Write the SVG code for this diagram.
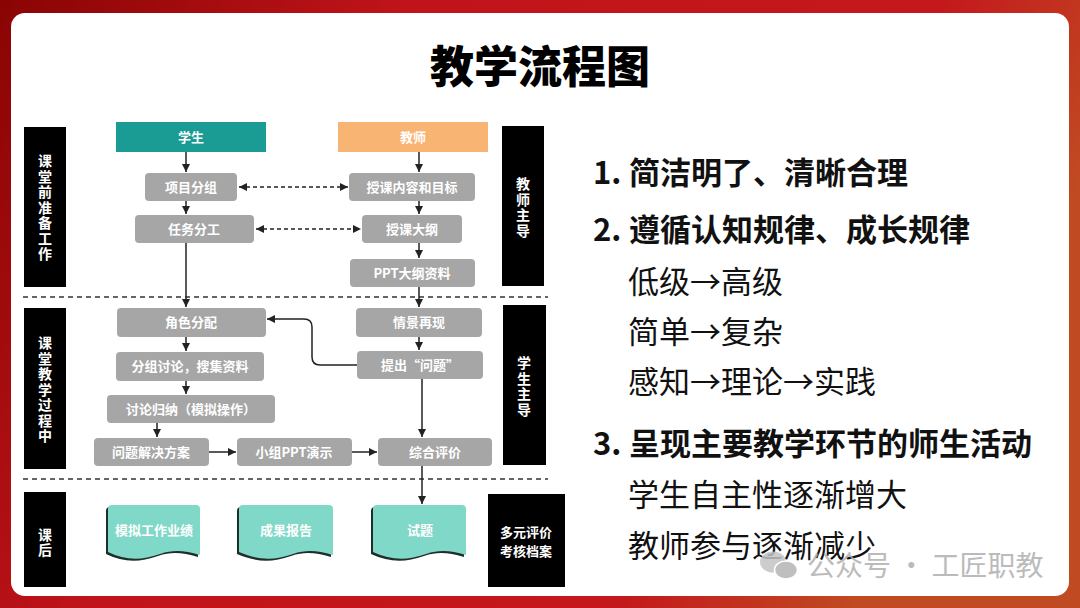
<svg xmlns="http://www.w3.org/2000/svg" width="1080" height="608" viewBox="0 0 1080 608">
<style>
text{font-family:"Noto Sans CJK SC","Noto Sans",sans-serif}
.gb{fill:#a6a6a6}
.gt{fill:#fff;font-size:13px;font-weight:bold;text-anchor:middle}
.bk{fill:#000}
.bt{fill:#fff;font-size:13px;font-weight:bold;text-anchor:middle}
.vt{fill:#fff;font-size:14px;font-weight:bold;text-anchor:middle;writing-mode:vertical-rl;letter-spacing:1.5px}
.ln{stroke:#222;stroke-width:1.5;fill:none}
.da{stroke:#222;stroke-width:1.4;fill:none;stroke-dasharray:4 3}
.sep{stroke:#333;stroke-width:1.4;fill:none;stroke-dasharray:5 4}
.doc{fill:#80d8c8}
.sh{fill:#1e2e2b}
.h1{fill:#111;font-size:31px;font-weight:bold}
.h2{fill:#111;font-size:31px}
</style>
<defs>
<linearGradient id="bg" x1="0" y1="0" x2="1" y2="0.3">
<stop offset="0" stop-color="#8a0404"/>
<stop offset="0.35" stop-color="#c0141a"/>
<stop offset="0.8" stop-color="#c4181c"/>
<stop offset="1" stop-color="#c04a22"/>
</linearGradient>
<marker id="ar" markerUnits="userSpaceOnUse" markerWidth="9" markerHeight="9" refX="8" refY="4" orient="auto-start-reverse">
<path d="M0,0 L8,4 L0,8 z" fill="#222"/>
</marker>
</defs>
<rect x="0" y="0" width="1080" height="608" fill="url(#bg)"/>
<rect x="11" y="13" width="1058" height="583" rx="14" fill="#fff"/>
<text x="540" y="83" text-anchor="middle" font-size="44" font-weight="900" fill="#000">教学流程图</text>

<g id="connectors">
<line class="sep" x1="23" y1="297" x2="548" y2="297"/>
<line class="sep" x1="23" y1="479" x2="548" y2="479"/>
<path class="ln" d="M186,152 V172" marker-end="url(#ar)"/>
<path class="ln" d="M186,201 V214" marker-end="url(#ar)"/>
<path class="ln" d="M186,243 V307" marker-end="url(#ar)"/>
<path class="ln" d="M419,152 V172" marker-end="url(#ar)"/>
<path class="ln" d="M419,201 V214" marker-end="url(#ar)"/>
<path class="ln" d="M419,243 V258" marker-end="url(#ar)"/>
<path class="ln" d="M419,287 V307" marker-end="url(#ar)"/>
<path class="ln" d="M419,337 V350" marker-end="url(#ar)"/>
<path class="ln" d="M422,379 V437" marker-end="url(#ar)"/>
<path class="ln" d="M186,337 V351" marker-end="url(#ar)"/>
<path class="ln" d="M186,381 V394" marker-end="url(#ar)"/>
<path class="ln" d="M157,423 V437" marker-end="url(#ar)"/>
<path class="ln" d="M209,452 H236" marker-end="url(#ar)"/>
<path class="ln" d="M352,452 H377" marker-end="url(#ar)"/>
<path class="ln" d="M422,466 V504" marker-end="url(#ar)"/>
<path class="ln" d="M357,365 H320 Q312,365 312,357 V327 Q312,319 304,319 H267" marker-end="url(#ar)"/>
<path class="da" d="M239,187 H348" marker-start="url(#ar)" marker-end="url(#ar)"/>
<path class="da" d="M256,229 H361" marker-start="url(#ar)" marker-end="url(#ar)"/>
</g>

<g id="n-student"><rect x="116" y="122" width="150" height="30" fill="#1a9c95"/><text class="gt" x="191" y="142">学生</text></g>
<g id="n-teacher"><rect x="338" y="122" width="150" height="30" fill="#f8b473"/><text class="gt" x="413" y="142">教师</text></g>
<g id="n-xmfz"><rect class="gb" x="145" y="173" width="92" height="28" rx="4"/><text class="gt" x="191" y="192">项目分组</text></g>
<g id="n-skmb"><rect class="gb" x="349" y="173" width="126" height="28" rx="4"/><text class="gt" x="412" y="192">授课内容和目标</text></g>
<g id="n-rwfg"><rect class="gb" x="135" y="215" width="119" height="28" rx="4"/><text class="gt" x="194" y="234">任务分工</text></g>
<g id="n-skdg"><rect class="gb" x="362" y="215" width="100" height="28" rx="4"/><text class="gt" x="412" y="234">授课大纲</text></g>
<g id="n-ppt"><rect class="gb" x="350" y="259" width="125" height="28" rx="4"/><text class="gt" x="412" y="278">PPT大纲资料</text></g>
<g id="n-jsfp"><rect class="gb" x="117" y="308" width="149" height="29" rx="4"/><text class="gt" x="191" y="327">角色分配</text></g>
<g id="n-qjzx"><rect class="gb" x="356" y="308" width="126" height="29" rx="4"/><text class="gt" x="419" y="327">情景再现</text></g>
<g id="n-fztl"><rect class="gb" x="116" y="352" width="148" height="29" rx="4"/><text class="gt" x="190" y="371">分组讨论，搜集资料</text></g>
<g id="n-tcwt"><rect class="gb" x="357" y="351" width="126" height="28" rx="4"/><text class="gt" x="420" y="370">提出“问题”</text></g>
<g id="n-tlgn"><rect class="gb" x="107" y="395" width="168" height="28" rx="4"/><text class="gt" x="191" y="414">讨论归纳（模拟操作）</text></g>
<g id="n-wtjj"><rect class="gb" x="94" y="438" width="115" height="28" rx="4"/><text class="gt" x="151" y="457">问题解决方案</text></g>
<g id="n-xzppt"><rect class="gb" x="237" y="438" width="115" height="28" rx="4"/><text class="gt" x="294" y="457">小组PPT演示</text></g>
<g id="n-zhpj"><rect class="gb" x="378" y="438" width="114" height="28" rx="4"/><text class="gt" x="435" y="457">综合评价</text></g>

<g id="l-kqzb"><rect class="bk" x="24" y="127" width="42" height="160"/>
<text class="vt" x="45" y="208">课堂前准备工作</text></g>
<g id="l-jszd"><rect class="bk" x="502" y="126" width="42" height="160"/>
<text class="vt" x="523" y="208">教师主导</text></g>
<g id="l-ktjx"><rect class="bk" x="24" y="308" width="42" height="161"/>
<text class="vt" x="45" y="390">课堂教学过程中</text></g>
<g id="l-xszd"><rect class="bk" x="503" y="305" width="43" height="160"/>
<text class="vt" x="524" y="387">学生主导</text></g>
<g id="l-kh"><rect class="bk" x="24" y="492" width="42" height="95"/>
<text class="vt" x="45" y="543">课后</text></g>
<g id="l-dypj"><rect class="bk" x="488" y="494" width="77" height="93"/>
<text class="bt" x="526" y="537">多元评价</text>
<text class="bt" x="526" y="556">考核档案</text></g>

<g id="d-mngz">
<path class="sh" transform="translate(-2,2)" d="M112,505 H196 Q200,505 200,509 V555 C185,551 175,549 160,554 C140,561 125,560 108,552 V509 Q108,505 112,505 Z"/>
<path class="doc" d="M112,505 H196 Q200,505 200,509 V555 C185,551 175,549 160,554 C140,561 125,560 108,552 V509 Q108,505 112,505 Z"/>
<text class="gt" x="154" y="535">模拟工作业绩</text></g>
<g id="d-cgbg">
<path class="sh" transform="translate(-2,2)" d="M243,505 H329 Q333,505 333,509 V555 C318,551 308,549 293,554 C273,561 258,560 239,552 V509 Q239,505 243,505 Z"/>
<path class="doc" d="M243,505 H329 Q333,505 333,509 V555 C318,551 308,549 293,554 C273,561 258,560 239,552 V509 Q239,505 243,505 Z"/>
<text class="gt" x="286" y="535">成果报告</text></g>
<g id="d-st">
<path class="sh" transform="translate(-2,2)" d="M377,505 H462 Q466,505 466,509 V555 C451,551 441,549 426,554 C406,561 391,560 373,552 V509 Q373,505 377,505 Z"/>
<path class="doc" d="M377,505 H462 Q466,505 466,509 V555 C451,551 441,549 426,554 C406,561 391,560 373,552 V509 Q373,505 377,505 Z"/>
<text class="gt" x="420" y="535">试题</text></g>

<g id="notes">
<text class="h1" x="593" y="184">1. <tspan x="629">简洁明了、清晰合理</tspan></text>
<text class="h1" x="593" y="241">2. <tspan x="629">遵循认知规律、成长规律</tspan></text>
<text class="h2" x="628" y="293">低级→高级</text>
<text class="h2" x="628" y="343">简单→复杂</text>
<text class="h2" x="628" y="393">感知→理论→实践</text>
<text class="h1" x="593" y="455">3. <tspan x="629">呈现主要教学环节的师生活动</tspan></text>
<text class="h2" x="628" y="506">学生自主性逐渐增大</text>
<text class="h2" x="628" y="557">教师参与逐渐减少</text>
</g>

<g id="watermark" opacity="0.85">
<ellipse cx="773" cy="562" rx="13" ry="10.5" fill="#c4c4c4"/>
<ellipse cx="786" cy="570" rx="11.5" ry="9" fill="#b4b4b4" stroke="#fff" stroke-width="1.5"/>
<text x="807" y="576" font-size="28" fill="#b0b0b0">公众号 · 工匠职教</text>
</g>
</svg>
